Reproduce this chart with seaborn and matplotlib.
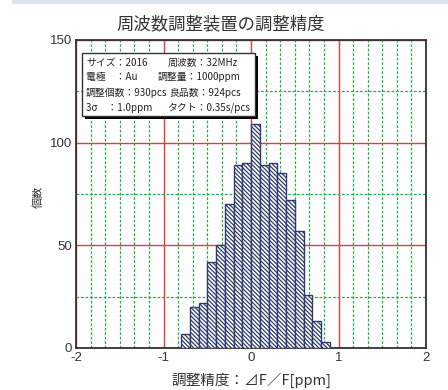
import matplotlib

matplotlib.use("Agg")
import matplotlib.pyplot as plt  # noqa: E402
from matplotlib.patches import Rectangle  # noqa: E402
from matplotlib.ticker import MultipleLocator  # noqa: E402
import seaborn as sns

# data (bin width 0.1 ppm)
bin_edges = [-0.8, -0.7, -0.6, -0.5, -0.4, -0.3, -0.2, -0.1, 0.0,
             0.1, 0.2, 0.3, 0.4, 0.5, 0.6, 0.7, 0.8, 0.9]
counts = [7, 20, 22, 42, 50, 70, 89, 90, 109, 89, 90, 85, 72, 57, 26, 13, 3]

title = "周波数調整装置の調整精度"
xlabel = "調整精度：⊿F／F[ppm]"
ylabel = "個数"
info_left = ["サイズ：2016", "電極　：Au", "調整個数：930pcs", "3σ　：1.0ppm"]
info_right = ["周波数：32MHz", "調整量：1000ppm", "良品数：924pcs", "タクト：0.35s/pcs"]
x_ticks = [-2, -1, 0, 1, 2]
y_ticks = [0, 50, 100, 150]

sns.set_style("white")
plt.rcParams["font.family"] = ["Liberation Sans", "Noto Sans CJK JP", "DejaVu Sans"]
plt.rcParams["hatch.linewidth"] = 0.9
plt.rcParams["axes.unicode_minus"] = False

W, H = 448, 390
fig = plt.figure(figsize=(W / 100, H / 100), dpi=100)
ax = fig.add_axes([76 / W, 1 - 348 / H, 350 / W, 308 / H])

# light blue band along the top edge
fig.add_artist(Rectangle((12 / W, 1 - 4 / H), 1, 4 / H, transform=fig.transFigure,
                         facecolor="#dbe5f1", edgecolor="none"))

centers = [(a + b) / 2 for a, b in zip(bin_edges[:-1], bin_edges[1:])]
navy = "#2f3b6c"
sns.histplot(x=centers, weights=counts, bins=bin_edges, ax=ax, stat="count",
             color="white", edgecolor=navy, linewidth=1.0, alpha=1.0,
             hatch="\\" * 8, zorder=3)

ax.set_xlim(-2, 2)
ax.set_ylim(0, 150)
ax.set_xticks(x_ticks)
ax.set_yticks(y_ticks)
ax.xaxis.set_minor_locator(MultipleLocator(1 / 6))
ax.yaxis.set_minor_locator(MultipleLocator(25))
ax.grid(which="major", color="#e8393e", linewidth=1.0)
ax.grid(which="minor", color="#22b14c", linewidth=0.9, linestyle=(0, (2.2, 1.4)))
ax.set_axisbelow(True)
ax.tick_params(which="major", direction="in", length=3, width=1, color="#333333",
               labelsize=9.5, labelcolor="#333333", pad=3)
ax.tick_params(which="minor", length=0)
for s in ax.spines.values():
    s.set_color("#333333")
    s.set_linewidth(1.3)
ax.set_xlabel("")
ax.set_ylabel("")

fig.text(221 / W, 1 - 24 / H, title, ha="center", va="center", fontsize=12.5,
         color="#333333", family=["Noto Sans CJK JP"])
fig.text(251 / W, 1 - 380 / H, xlabel, ha="center", va="center", fontsize=10.5,
         color="#333333", family=["Noto Sans CJK JP", "DejaVu Sans"])
fig.text(38 / W, 1 - 197 / H, ylabel, ha="center", va="center", fontsize=8,
         rotation=90, color="#333333", family=["Noto Sans CJK JP"])

# info box with drop shadow
bx0, by0, bx1, by1 = 82, 53, 255, 116
fig.add_artist(Rectangle((bx0 / W + 3 / W, 1 - (by1 + 3) / H), (bx1 - bx0) / W, (by1 - by0) / H,
                         transform=fig.transFigure, facecolor="black", edgecolor="none", zorder=5))
fig.add_artist(Rectangle((bx0 / W, 1 - by1 / H), (bx1 - bx0) / W, (by1 - by0) / H,
                         transform=fig.transFigure, facecolor="white", edgecolor="#333333",
                         linewidth=1.0, zorder=6))
line_y = [63, 77, 92.5, 108]
right_x = [168, 158, 169, 167]
for i, (lt, rt) in enumerate(zip(info_left, info_right)):
    fig.text(86 / W, 1 - line_y[i] / H, lt, ha="left", va="center", fontsize=7.1,
             color="#222222", family=["Noto Sans CJK JP"], zorder=7)
    fig.text(right_x[i] / W, 1 - line_y[i] / H, rt, ha="left", va="center", fontsize=7.1,
             color="#222222", family=["Noto Sans CJK JP"], zorder=7)

fig.savefig("out.png", dpi=100)
